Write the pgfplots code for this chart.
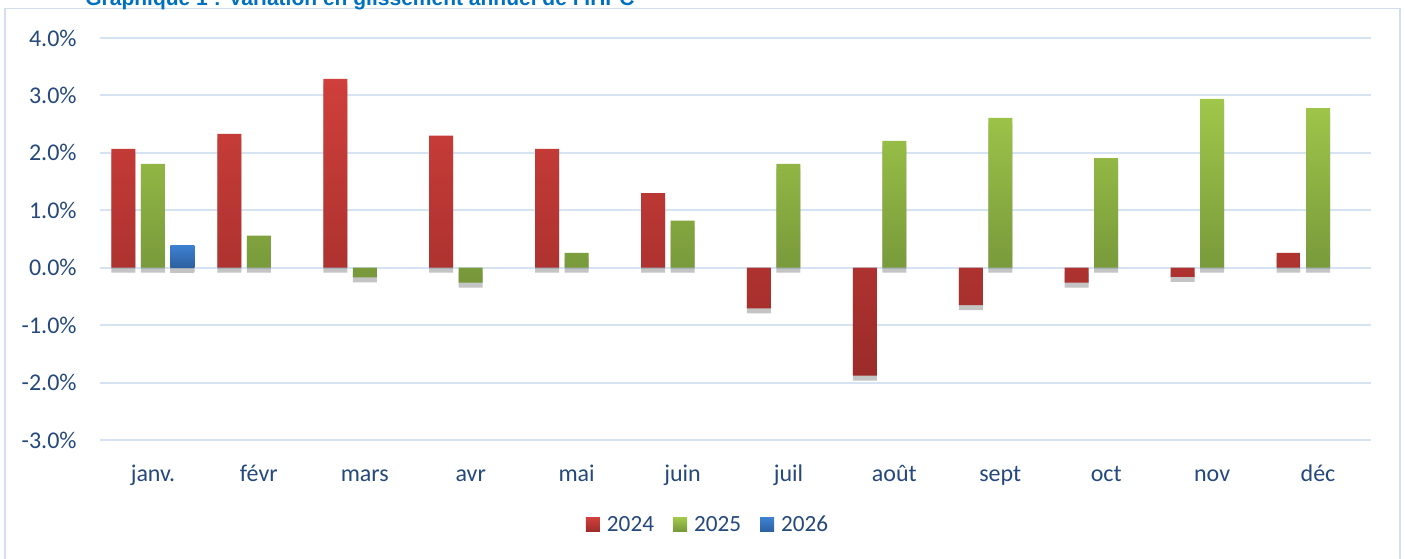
\documentclass[border=0pt]{standalone}
\usepackage{pgfplots}
\pgfplotsset{compat=1.18}
\usepackage{fontspec}
\setmainfont{Carlito}
\newfontfamily\titlefont{Liberation Sans}
\usetikzlibrary{shadows}
\definecolor{txt}{HTML}{25497D}
\definecolor{titleblue}{HTML}{0070C0}
\definecolor{framec}{HTML}{D3DFEE}
\definecolor{gridc}{HTML}{D6E3F3}
\definecolor{rtop}{HTML}{CF3F3B}
\definecolor{rbot}{HTML}{9B2B29}
\definecolor{gtop}{HTML}{A0C74A}
\definecolor{gbot}{HTML}{76963A}
\definecolor{btop}{HTML}{3D80D0}
\definecolor{bbot}{HTML}{2D5F9E}
\tikzset{barshadow/.style={drop shadow={top color=black, bottom color=black, shadow xshift=0pt, shadow yshift=-2.5pt, opacity=0.16}}}
\begin{document}
\begin{tikzpicture}
\path[use as bounding box, clip] (0,0) rectangle (702.5pt,279pt);
\fill[white] (0,0) rectangle (702.5pt,279pt);
\draw[framec, line width=0.75pt] (2.5pt,-5pt) rectangle (700pt,274.75pt);
\node[anchor=base west, font=\titlefont\bfseries\fontsize{10.5}{12}\selectfont, text=titleblue, inner sep=0pt] at (42.5pt,276pt) {Graphique 1 : Variation en glissement annuel de l’IHPC};
\begin{axis}[
  at={(50pt,59pt)}, anchor=south west,
  scale only axis, width=635.5pt, height=201pt,
  xmin=-0.5, xmax=11.5, ymin=-3, ymax=4,
  ybar, bar width=12pt,
  axis line style={draw=none},
  major tick length=0pt,
  ymajorgrids, grid style={gridc, line width=1pt},
  ytick={-3,-2,-1,0,1,2,3,4},
  yticklabels={-3.0\%,-2.0\%,-1.0\%,0.0\%,1.0\%,2.0\%,3.0\%,4.0\%},
  xtick={0,1,2,3,4,5,6,7,8,9,10,11},
  xticklabels={janv.,févr,mars,avr,mai,juin,juil,août,sept,oct,nov,déc},
  tick label style={font=\fontsize{12}{14}\selectfont, text=txt},
  yticklabel style={anchor=east, inner sep=0pt, xshift=-11.5pt},
  xticklabel style={anchor=base, inner sep=0pt, yshift=-20.5pt},
  legend style={at={(0.4776,-0.2114)}, anchor=center, draw=none, fill=none,
    legend columns=3, font=\fontsize{11.6}{13}\selectfont, text=txt,
    nodes={inner sep=0pt}, cells={anchor=west},
    /tikz/every odd column/.append style={column sep=3.5pt},
    /tikz/every even column/.append style={column sep=9.5pt}},
]
\addlegendimage{draw=none, legend image code/.code={\path[draw=none, top color=rtop, bottom color=rbot] (0pt,-3.5pt) rectangle (7pt,3.5pt);}}
\addlegendimage{draw=none, legend image code/.code={\path[draw=none, top color=gtop, bottom color=gbot] (0pt,-3.5pt) rectangle (7pt,3.5pt);}}
\addlegendimage{draw=none, legend image code/.code={\path[draw=none, top color=btop, bottom color=bbot] (0pt,-3.5pt) rectangle (7pt,3.5pt);}}
\addplot[forget plot, bar shift=-14.75pt, draw=none, top color=rtop, bottom color=rbot, barshadow]
  coordinates {(0,2.07) (1,2.33) (2,3.29) (3,2.30) (4,2.07) (5,1.30) (6,-0.71) (7,-1.88) (8,-0.65) (9,-0.26) (10,-0.16) (11,0.26)};
\addplot[forget plot, bar shift=0pt, draw=none, top color=gtop, bottom color=gbot, barshadow]
  coordinates {(0,1.81) (1,0.56) (2,-0.17) (3,-0.26) (4,0.26) (5,0.82) (6,1.81) (7,2.21) (8,2.61) (9,1.91) (10,2.94) (11,2.78)};
\addplot[forget plot, bar shift=14.75pt, draw=none, top color=btop, bottom color=bbot, barshadow]
  coordinates {(0,0.38)};
\legend{2024,2025,2026}
\end{axis}
\end{tikzpicture}
\end{document}
